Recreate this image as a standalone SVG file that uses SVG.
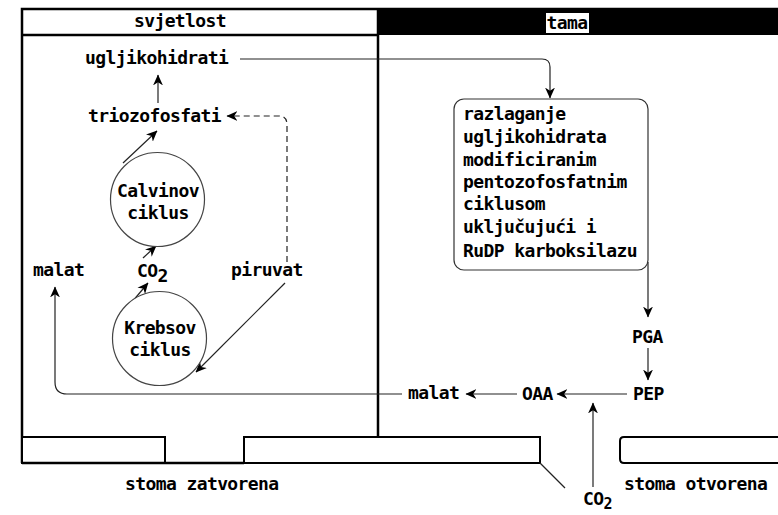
<svg xmlns="http://www.w3.org/2000/svg" width="778" height="515" viewBox="0 0 778 515">
<style>
text{font-family:"DejaVu Sans Mono","Liberation Mono",monospace;font-size:18px;font-weight:bold;letter-spacing:-0.6px;fill:#000}
.c{text-anchor:middle}
.frame{fill:none;stroke:#000;stroke-width:2.5}
.wall{fill:#fff;stroke:#000;stroke-width:2}
.ln{fill:none;stroke:#222;stroke-width:1.2}
.dash{fill:none;stroke:#222;stroke-width:1.2;stroke-dasharray:6,4}
.cyc{fill:#fff;stroke:#444;stroke-width:1.2}
</style>
<defs>
<marker id="ah" viewBox="0 0 10 10" refX="9.5" refY="5" markerWidth="11" markerHeight="11" markerUnits="userSpaceOnUse" orient="auto">
<path d="M0,0.5 L10,5 L0,9.5 L3,5 z" fill="#000"/>
</marker>
</defs>
<rect width="778" height="515" fill="#fff"/>

<g id="frame">
<rect x="378" y="8" width="400" height="27" fill="#000"/>
<path class="frame" d="M22,463 V9 H778"/>
<path class="frame" d="M22,35 H378"/>
<path class="frame" d="M378,9 V437"/>
<rect x="546" y="13" width="43" height="20" fill="#fff"/>
</g>

<g id="header-svjetlost"><text class="c" x="180" y="27">svjetlost</text></g>
<g id="header-tama"><text class="c" x="567" y="29">tama</text></g>

<g id="stoma">
<path class="wall" d="M22,437 H165 V463 H22 Z"/>
<path class="wall" d="M244,437 H540 V463 H244 Z"/>
<path class="frame" d="M22,463 H244" stroke-width="2"/>
<path class="wall" d="M624,437 H790 V463 H624 Q620,463 620,459 V441 Q620,437 624,437 Z"/>
<path class="ln" d="M540,463 L565,488"/>
</g>

<g id="connectors">
<path class="ln" d="M240,59 H542 Q550,59 550,67 V98" marker-end="url(#ah)"/>
<path class="ln" d="M158,103 V75" marker-end="url(#ah)"/>
<path class="ln" d="M123,163 L157,131" marker-end="url(#ah)"/>
<path class="ln" d="M143,258 L156,246" marker-end="url(#ah)"/>
<path class="ln" d="M132,302 L148,283" marker-end="url(#ah)"/>
<path class="ln" d="M285,283 L196,372" marker-end="url(#ah)"/>
<path class="dash" d="M287,262 V125 Q287,116 279,116 H227" marker-end="url(#ah)"/>
<path class="ln" d="M648,262 V317" marker-end="url(#ah)"/>
<path class="ln" d="M648,348 V380" marker-end="url(#ah)"/>
<path class="ln" d="M627,394 H557" marker-end="url(#ah)"/>
<path class="ln" d="M517,394 H466" marker-end="url(#ah)"/>
<path class="ln" d="M402,394 H67 Q55,394 55,382 V287" marker-end="url(#ah)"/>
<path class="ln" d="M593,487 V403" marker-end="url(#ah)"/>
</g>

<g id="ugljikohidrati"><text x="85" y="64">ugljikohidrati</text></g>
<g id="triozofosfati"><text x="88" y="122">triozofosfati</text></g>
<g id="calvin">
<circle class="cyc" cx="157.5" cy="199.5" r="47"/>
<text class="c" x="158" y="197">Calvinov</text>
<text class="c" x="158" y="219">ciklus</text>
</g>
<g id="malat-left"><text x="33" y="276">malat</text></g>
<g id="co2-top"><text x="137" y="277">CO<tspan dy="5">2</tspan></text></g>
<g id="piruvat"><text x="231" y="276">piruvat</text></g>
<g id="krebs">
<circle class="cyc" cx="159.5" cy="338.5" r="47"/>
<text class="c" x="160" y="334">Krebsov</text>
<text class="c" x="160" y="356">ciklus</text>
</g>

<g id="box">
<rect x="454" y="99" width="194" height="171" rx="10" ry="10" fill="#fff" stroke="#333" stroke-width="1.2"/>
<text x="463" y="120">razlaganje</text>
<text x="463" y="143">ugljikohidrata</text>
<text x="463" y="166">modificiranim</text>
<text x="463" y="188">pentozofosfatnim</text>
<text x="463" y="210">ciklusom</text>
<text x="463" y="233">uključujući i</text>
<text x="463" y="257">RuDP karboksilazu</text>
</g>

<g id="pga"><text x="632" y="343">PGA</text></g>
<g id="pep"><text x="633" y="400">PEP</text></g>
<g id="oaa"><text x="522" y="400">OAA</text></g>
<g id="malat-right"><text x="408" y="399">malat</text></g>
<g id="co2-bottom"><text x="583" y="505">CO<tspan dy="4" font-size="15">2</tspan></text></g>
<g id="stoma-zatvorena"><text x="125" y="490">stoma zatvorena</text></g>
<g id="stoma-otvorena"><text x="624" y="490">stoma otvorena</text></g>
</svg>
